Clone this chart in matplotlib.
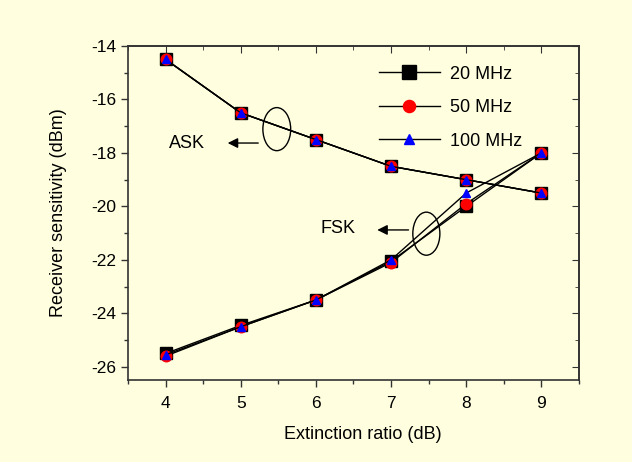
import matplotlib.pyplot as plt
from matplotlib.patches import Ellipse
from matplotlib.ticker import MultipleLocator

# extinction ratio (dB)
extinction = [4, 5, 6, 7, 8, 9]

# receiver sensitivity (dBm), ASK branch
ask_20 = [-14.5, -16.5, -17.5, -18.5, -19.0, -19.5]
ask_50 = [-14.5, -16.5, -17.5, -18.5, -19.0, -19.5]
ask_100 = [-14.5, -16.5, -17.5, -18.5, -19.0, -19.5]

# receiver sensitivity (dBm), FSK branch
fsk_20 = [-25.5, -24.45, -23.5, -22.05, -20.0, -18.0]
fsk_50 = [-25.6, -24.5, -23.5, -22.1, -19.9, -18.0]
fsk_100 = [-25.55, -24.5, -23.5, -22.0, -19.5, -18.0]

labels = ["20 MHz", "50 MHz", "100 MHz"]

plt.rcParams['font.family'] = ['Liberation Sans', 'DejaVu Sans']
plt.rcParams['axes.unicode_minus'] = False
bg = '#FFFFE0'
fs = 13

fig = plt.figure(figsize=(6.32, 4.62), dpi=100, facecolor=bg)
ax = fig.add_axes([0.2025, 0.177, 0.7135, 0.7235], facecolor=bg)

styles = [
    dict(marker='s', ms=8.6, mfc='black', mec='black'),
    dict(marker='o', ms=7.6, mfc='red', mec='red'),
    dict(marker='^', ms=6.0, mfc='blue', mec='blue'),
]
for ask, fsk, lab, st in zip([ask_20, ask_50, ask_100],
                             [fsk_20, fsk_50, fsk_100], labels, styles):
    ax.plot(extinction, ask, color='black', lw=1, label=lab, **st)
    ax.plot(extinction, fsk, color='black', lw=1, **st)

ax.set_xlim(3.5, 9.5)
ax.set_ylim(-26.5, -14)
ax.set_xticks(extinction)
ax.xaxis.set_minor_locator(MultipleLocator(0.5))
ax.yaxis.set_major_locator(MultipleLocator(2))
ax.yaxis.set_minor_locator(MultipleLocator(1))

for sp in ax.spines.values():
    sp.set_color('#333333')
    sp.set_linewidth(1.2)

ax.tick_params(which='both', direction='out', colors='#333333',
               labelcolor='black', labelsize=12.5)
ax.tick_params(which='major', length=5, width=1)
ax.tick_params(which='minor', length=3, width=1)
ax.tick_params(axis='x', which='major', pad=6)
# inward ticks on top / right
ax2 = ax.secondary_xaxis('top')
ax2.set_xticks(extinction)
ax2.xaxis.set_minor_locator(MultipleLocator(0.5))
ax2.tick_params(which='both', direction='in', labeltop=False, colors='#333333')
ax2.tick_params(which='major', length=5)
ax2.tick_params(which='minor', length=3)
ax3 = ax.secondary_yaxis('right')
ax3.yaxis.set_major_locator(MultipleLocator(2))
ax3.yaxis.set_minor_locator(MultipleLocator(1))
ax3.tick_params(which='both', direction='in', labelright=False, colors='#333333')
ax3.tick_params(which='major', length=5)
ax3.tick_params(which='minor', length=3)
for a in (ax2, ax3):
    for sp in a.spines.values():
        sp.set_color('#333333')
        sp.set_linewidth(1.2)

ax.set_xlabel("Extinction ratio (dB)", fontsize=fs)
ax.set_ylabel("Receiver sensitivity (dBm)", fontsize=fs)
ax.xaxis.set_label_coords(0.52, -0.138)
ax.yaxis.set_label_coords(-0.135, 0.5)

# annotations
arrow = dict(arrowstyle='-|>', color='black', lw=1, mutation_scale=15)
ax.add_patch(Ellipse((5.48, -17.11), 0.37, 1.61, fill=False, ec='black', lw=1))
ax.annotate("", xy=(4.79, -17.63), xytext=(5.27, -17.63), arrowprops=arrow)
ax.text(4.28, -17.63, "ASK", fontsize=fs, ha='center', va='center')

ax.add_patch(Ellipse((7.47, -21.02), 0.36, 1.61, fill=False, ec='black', lw=1))
ax.annotate("", xy=(6.78, -20.88), xytext=(7.27, -20.88), arrowprops=arrow)
ax.text(6.30, -20.84, "FSK", fontsize=fs, ha='center', va='center')

ax.legend(loc='upper left', bbox_to_anchor=(0.54, 0.963), borderaxespad=0,
          frameon=False, fontsize=fs, handlelength=3.4, handletextpad=0.55,
          labelspacing=0.92, markerscale=1.15)

fig.savefig("out.png", dpi=100, facecolor=bg)
